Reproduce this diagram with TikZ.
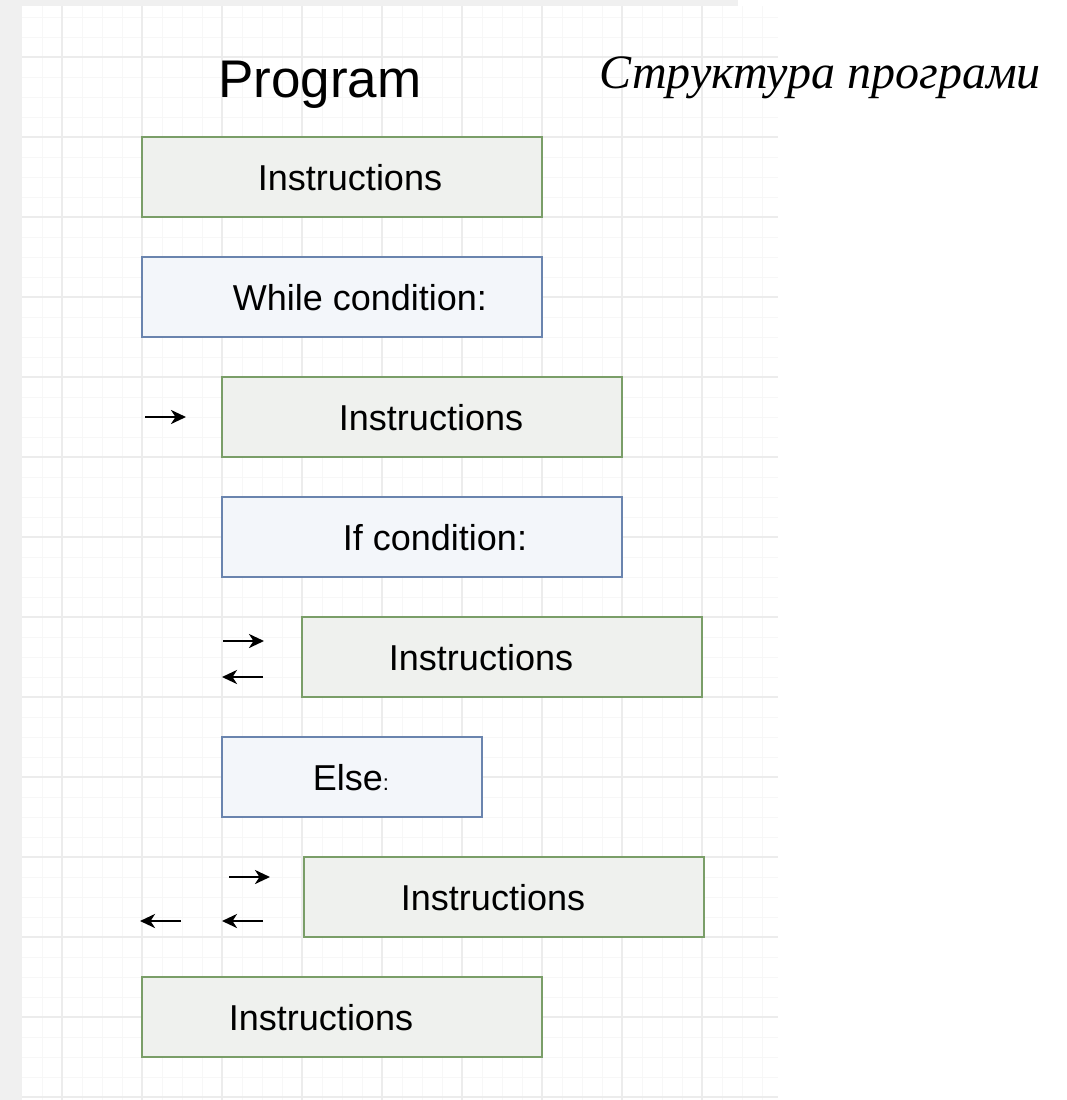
\documentclass[tikz,border=0pt]{standalone}
\usepackage{fontspec}
\setmainfont{Liberation Sans}
\newfontfamily\cyrserif{Liberation Serif}
\usetikzlibrary{arrows.meta}
\definecolor{gridminor}{HTML}{F7F7F7}
\definecolor{gridmajor}{HTML}{ECECEC}
\definecolor{sidegray}{HTML}{F0F0F0}
\definecolor{gfill}{HTML}{EFF1EE}
\definecolor{gline}{HTML}{7A9E68}
\definecolor{bfill}{HTML}{F3F6FA}
\definecolor{bline}{HTML}{6A84AE}
\begin{document}
\begin{tikzpicture}[x=1pt,y=-1pt,
  gbox/.style={draw=gline, fill=gfill, line width=1.5pt, minimum width=400pt, minimum height=80pt, inner sep=0pt},
  bbox/.style={draw=bline, fill=bfill, line width=1.5pt, minimum width=400pt, minimum height=80pt, inner sep=0pt},
  lbl/.style={font=\fontsize{36}{40}\selectfont, anchor=base, inner sep=0pt},
  arr/.style={line width=2.8pt, -{Stealth[length=15pt,width=14pt,inset=4.5pt]}}
]
\useasboundingbox (0,0) rectangle (1066,1100);
\fill[white] (0,0) rectangle (1066,1100);
\fill[sidegray] (0,0) rectangle (22,1100);
\fill[sidegray] (0,0) rectangle (738,6);
% grid
\foreach \x in {42,62,...,778} \draw[gridminor, line width=1pt] (\x,6) -- (\x,1100);
\foreach \y in {17,37,...,1097} \draw[gridminor, line width=1pt] (22,\y) -- (778,\y);
\foreach \x in {62,142,...,702} \draw[gridmajor, line width=1.5pt] (\x,6) -- (\x,1100);
\foreach \y in {57,137,...,1097} \draw[gridmajor, line width=1.5pt] (22,\y) -- (778,\y);
% titles
\node[font=\fontsize{53}{60}\selectfont, anchor=base, inner sep=0pt] (title) at (320,97) {Program};
\node[font=\cyrserif\itshape\fontsize{48}{54}\selectfont, anchor=base, inner sep=0pt] (subtitle) at (820,88) {Структура програми};
% boxes
\node[gbox] (b1) at (342,177) {};
\node[bbox] (b2) at (342,297) {};
\node[gbox] (b3) at (422,417) {};
\node[bbox] (b4) at (422,537) {};
\node[gbox] (b5) at (502,657) {};
\node[bbox, minimum width=260pt] (b6) at (352,777) {};
\node[gbox] (b7) at (504,897) {};
\node[gbox] (b8) at (342,1017) {};
% labels
\node[lbl] (t1) at (350,190) {Instructions};
\node[lbl] (t2) at (360,310) {While condition:};
\node[lbl] (t3) at (431,430) {Instructions};
\node[lbl] (t4) at (435,550) {If condition:};
\node[lbl] (t5) at (481,670) {Instructions};
\node[lbl] (t6) at (351,790) {Else{\fontsize{22}{24}\selectfont:}};
\node[lbl] (t7) at (493,910) {Instructions};
\node[lbl] (t8) at (321,1030) {Instructions};
% arrows
\coordinate (a1s) at (145,417); \coordinate (a1e) at (186,417);
\coordinate (a2s) at (223,641); \coordinate (a2e) at (264,641);
\coordinate (a3s) at (263,677); \coordinate (a3e) at (222,677);
\coordinate (a4s) at (229,877); \coordinate (a4e) at (270,877);
\coordinate (a5s) at (181,921); \coordinate (a5e) at (140,921);
\coordinate (a6s) at (263,921); \coordinate (a6e) at (222,921);
\draw[arr] (a1s) -- (a1e);
\draw[arr] (a2s) -- (a2e);
\draw[arr] (a3s) -- (a3e);
\draw[arr] (a4s) -- (a4e);
\draw[arr] (a5s) -- (a5e);
\draw[arr] (a6s) -- (a6e);
\end{tikzpicture}
\end{document}
